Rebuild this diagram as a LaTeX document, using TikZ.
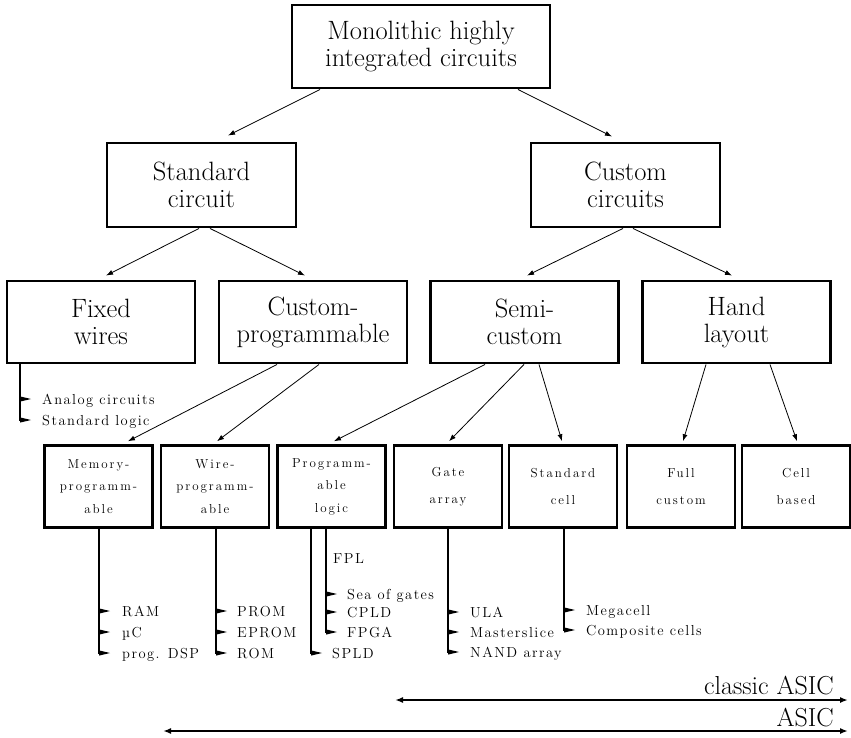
\documentclass[tikz,border=0pt]{standalone}
\usepackage{fontspec}
\usetikzlibrary{arrows.meta}
\newfontfamily\boxspfont{lmroman12-regular.otf}[LetterSpace=15]
\newfontfamily\labspfont{lmroman12-regular.otf}[LetterSpace=10]
\newcommand\smallfnt{\boxspfont\fontsize{13}{22.5}\selectfont}
\newcommand\labfnt{\labspfont\fontsize{14.5}{16}\selectfont}
\begin{document}
\begin{tikzpicture}[x=1pt,y=-1pt,
  bigbox/.style={draw, line width=2.9pt, inner sep=0pt, align=center,
    font=\fontsize{26.5}{27}\selectfont},
  rowbox/.style={bigbox, minimum width=188pt, minimum height=82pt},
  smallbox/.style={draw, line width=2.5pt, minimum width=108pt, minimum height=82pt,
    inner sep=0pt, align=center, font=\smallfnt},
  conn/.style={-{Latex[length=7pt,width=5pt]}, line width=0.8pt},
  vline/.style={line width=1.4pt},
  lab/.style={anchor=west, inner sep=0pt, text height=10pt, text depth=0pt, font=\labfnt},
  asic/.style={{Latex[length=8pt,width=6pt]}-{Latex[length=8pt,width=6pt]}, line width=1.6pt},
  asiclab/.style={anchor=base east, inner sep=0pt, font=\fontsize{26}{28}\selectfont},
  tk/.pic={\fill (0,-2.6) -- (11,0) -- (0,2.6) -- cycle;}
]
\useasboundingbox (0,0) rectangle (851,738);

% level 0
\node[bigbox, minimum width=258pt, minimum height=83pt] (top) at (421,46.5) {Monolithic highly\\integrated circuits};
% level 1
\node[bigbox, minimum width=189pt, minimum height=84pt] (std) at (201.5,185) {Standard\\circuit};
\node[bigbox, minimum width=189pt, minimum height=84pt] (cus) at (625.5,185) {Custom\\circuits};
% level 2
\node[rowbox] (fix) at (101,322) {Fixed\\wires};
\node[rowbox] (cp) at (313,322) {Custom-\\programmable};
\node[rowbox] (semi) at (524.5,322) {Semi-\\custom};
\node[rowbox] (hand) at (736.5,322) {Hand\\layout};
% level 3
\node[smallbox] (mem) at (98.5,486.5) {Memory-\\programm-\\able};
\node[smallbox] (wire) at (215,486.5) {Wire-\\programm-\\able};
\node[smallbox] (pl) at (331.5,486.5) {Programm-\\able\\logic};
\node[smallbox] (ga) at (448,486.5) {Gate\\[4pt]array};
\node[smallbox] (sc) at (563,486.5) {Standard\\[4pt]cell};
\node[smallbox] (fc) at (681,486.5) {Full\\[5pt]custom};
\node[smallbox] (cb) at (796,486.5) {Cell\\[5pt]based};

% tree connectors
\draw[conn] ([xshift=-101pt]top.south) -- ([xshift=26.5pt,yshift=6pt]std.north);
\draw[conn] ([xshift=97pt]top.south) -- ([xshift=-13.5pt,yshift=5pt]cus.north);
\draw[conn] ([xshift=-2.5pt]std.south) -- ([xshift=5pt,yshift=4pt]fix.north);
\draw[conn] ([xshift=8.5pt]std.south) -- ([xshift=-8pt,yshift=4pt]cp.north);
\draw[conn] ([xshift=-2.5pt]cus.south) -- ([xshift=2.5pt,yshift=4pt]semi.north);
\draw[conn] ([xshift=7.5pt]cus.south) -- ([xshift=-4.5pt,yshift=4pt]hand.north);
\draw[conn] ([xshift=-36pt]cp.south) -- ([xshift=29.5pt,yshift=3pt]mem.north);
\draw[conn] ([xshift=6pt]cp.south) -- ([xshift=2pt,yshift=3pt]wire.north);
\draw[conn] ([xshift=-39.5pt]semi.south) -- ([xshift=2.5pt,yshift=3pt]pl.north);
\draw[conn] ([xshift=-0.5pt]semi.south) -- ([xshift=1pt,yshift=3pt]ga.north);
\draw[conn] ([xshift=14.5pt]semi.south) -- ([xshift=-1pt,yshift=3pt]sc.north);
\draw[conn] ([xshift=-30.5pt]hand.south) -- ([xshift=2pt,yshift=3pt]fc.north);
\draw[conn] ([xshift=33.5pt]hand.south) -- ([xshift=1pt,yshift=3pt]cb.north);

% lists
\draw[vline] ([xshift=-81pt]fix.south) -- ++(0,57);
\foreach \yy in {399,420} \pic at ([xshift=-81pt]fix.south |- 0,\yy) {tk};
\node[lab] at (42,399) {Analog circuits};
\node[lab] at (42,420) {Standard logic};

\draw[vline] ([xshift=0.5pt]mem.south) -- ++(0,125);
\foreach \yy in {611,632,653} \pic at ([xshift=0.5pt]mem.south |- 0,\yy) {tk};
\node[lab] at (122,611) {RAM};
\node[lab] at (122,632) {µC};
\node[lab] at (122,653) {prog. DSP};

\draw[vline] ([xshift=1pt]wire.south) -- ++(0,125);
\foreach \yy in {611,632,653} \pic at ([xshift=1pt]wire.south |- 0,\yy) {tk};
\node[lab] at (237,611) {PROM};
\node[lab] at (237,632) {EPROM};
\node[lab] at (237,653) {ROM};

\draw[vline] ([xshift=-20.5pt]pl.south) -- ++(0,125);
\pic at ([xshift=-20.5pt]pl.south |- 0,653) {tk};
\node[lab] at (332,653) {SPLD};
\draw[vline] ([xshift=-5.5pt]pl.south) -- ++(0,104);
\foreach \yy in {594,612,632} \pic at ([xshift=-5.5pt]pl.south |- 0,\yy) {tk};
\node[lab] at (333,558) {FPL};
\node[lab] at (347,594) {Sea of gates};
\node[lab] at (347,612) {CPLD};
\node[lab] at (347,632) {FPGA};

\draw[vline] (ga.south) -- ++(0,124);
\foreach \yy in {612,632,652} \pic at (ga.south |- 0,\yy) {tk};
\node[lab] at (470,612) {ULA};
\node[lab] at (470,632) {Masterslice};
\node[lab] at (470,652) {NAND array};

\draw[vline] ([xshift=1pt]sc.south) -- ++(0,102);
\foreach \yy in {610,630} \pic at ([xshift=1pt]sc.south |- 0,\yy) {tk};
\node[lab] at (586,610) {Megacell};
\node[lab] at (586,630) {Composite cells};

% ASIC ranges
\coordinate (ca1) at (395,700);
\coordinate (ca2) at (848,700);
\coordinate (a1) at (163,731);
\coordinate (a2) at (848,731);
\draw[asic] (ca1) -- (ca2);
\draw[asic] (a1) -- (a2);
\node[asiclab] (cal) at (834,694) {classic ASIC};
\node[asiclab] (al) at (834,726) {ASIC};
\end{tikzpicture}
\end{document}
